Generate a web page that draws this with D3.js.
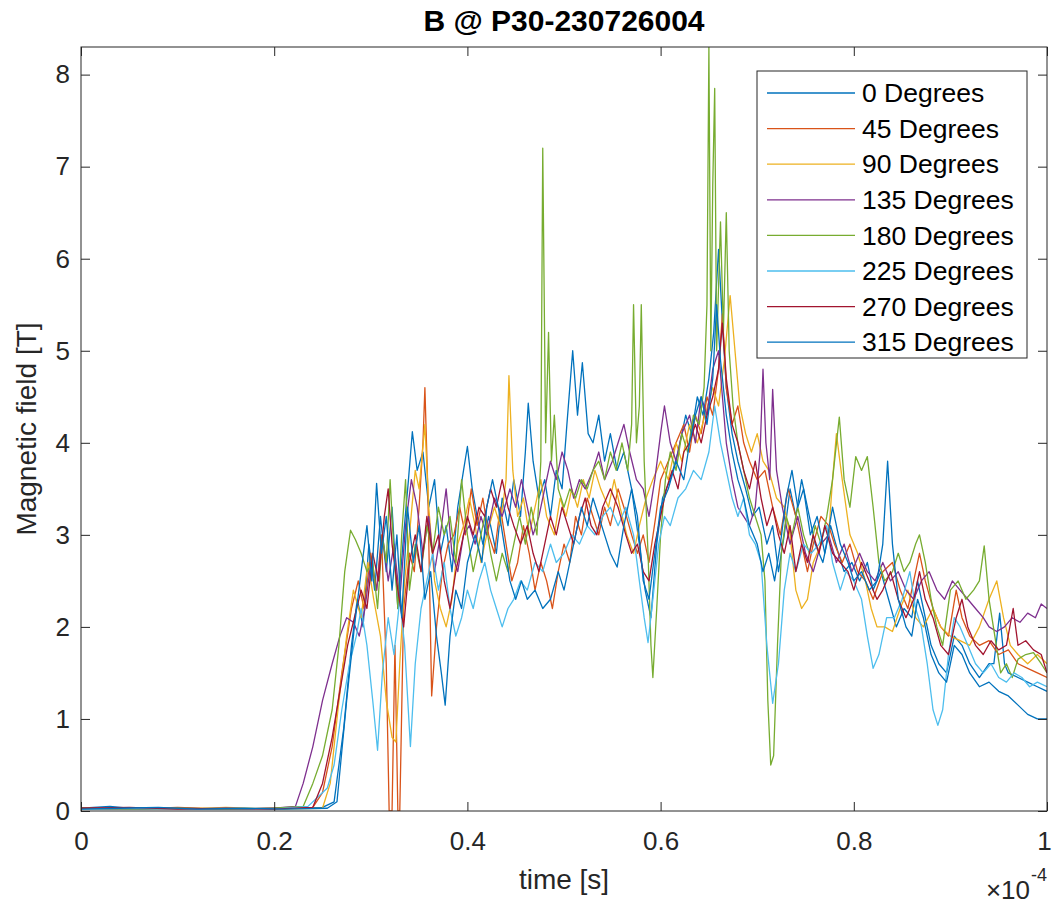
<!DOCTYPE html>
<html>
<head>
<meta charset="utf-8">
<script src="https://cdn.jsdelivr.net/npm/d3@7"></script>
<style>
  body { margin: 0; background: #fff; }
  text { font-family: "Liberation Sans", Arial, Helvetica, sans-serif; fill: #262626; }
</style>
</head>
<body>
<svg id="chart" width="1053" height="913"></svg>
<script>
// chart text
const title = "B @ P30-230726004";
const xLabel = "time [s]";
const yLabel = "Magnetic field [T]";
const xTicks = [0, 0.2, 0.4, 0.6, 0.8, 1];
const yTicks = [0, 1, 2, 3, 4, 5, 6, 7, 8];
const names = ["0 Degrees", "45 Degrees", "90 Degrees", "135 Degrees",
               "180 Degrees", "225 Degrees", "270 Degrees", "315 Degrees"];
// MATLAB default line order (8th wraps to first)
const colors = ["#0072BD", "#D95319", "#EDB120", "#7E2F8E",
                "#77AC30", "#4DBEEE", "#A2142F", "#0072BD"];

// [time (x1e-4 s), B (T)]
const deg0 = [[0,0.03],[0.03,0.05],[0.06,0.02],[0.1,0.03],[0.15,0.02],[0.2,0.03],[0.25,0.04],[0.262,0.1],[0.272,0.9],[0.28,1.8],[0.286,2.3],[0.292,2.0],[0.298,2.9],[0.304,2.4],[0.31,3.2],[0.316,2.6],[0.322,3.3],[0.328,2.2],[0.334,3.0],[0.339,3.6],[0.343,4.12],[0.348,3.7],[0.354,3.9],[0.36,3.3],[0.366,3.6],[0.372,2.8],[0.378,3.1],[0.384,2.6],[0.39,3.3],[0.396,3.7],[0.4,3.96],[0.405,3.5],[0.41,3.2],[0.416,2.9],[0.422,3.2],[0.43,2.8],[0.436,3.4],[0.442,3.1],[0.448,3.6],[0.455,3.2],[0.46,3.9],[0.463,4.43],[0.468,3.8],[0.474,3.4],[0.48,3.6],[0.486,3.2],[0.492,3.7],[0.498,3.5],[0.503,4.2],[0.509,5.0],[0.514,4.3],[0.519,4.87],[0.525,4.1],[0.53,4.0],[0.536,4.3],[0.542,3.8],[0.548,4.1],[0.555,3.7],[0.562,3.9],[0.57,3.5],[0.578,2.9],[0.584,2.4],[0.59,2.1],[0.596,2.9],[0.602,3.4],[0.61,3.6],[0.618,3.9],[0.626,4.3],[0.632,4.1],[0.638,4.5],[0.644,4.3],[0.65,4.7],[0.655,5.2],[0.66,6.1],[0.664,5.3],[0.668,4.6],[0.674,4.1],[0.68,3.8],[0.688,3.5],[0.695,3.2],[0.702,3.3],[0.71,2.9],[0.716,3.1],[0.722,2.6],[0.728,3.0],[0.734,3.5],[0.74,3.2],[0.746,3.6],[0.752,3.3],[0.76,2.9],[0.768,2.7],[0.776,3.1],[0.784,2.8],[0.79,2.6],[0.798,2.7],[0.806,2.5],[0.814,2.7],[0.82,2.4],[0.828,2.6],[0.836,2.3],[0.844,2.0],[0.852,2.2],[0.86,2.1],[0.866,2.5],[0.872,2.2],[0.88,1.8],[0.888,1.6],[0.896,1.5],[0.904,1.9],[0.912,1.8],[0.92,1.6],[0.93,1.45],[0.94,1.6],[0.945,1.6],[0.951,2.15],[0.956,1.6],[0.96,1.5],[0.97,1.45],[0.98,1.4],[0.99,1.35],[1.0,1.3]];

const deg45 = [[0,0.03],[0.05,0.02],[0.1,0.04],[0.15,0.02],[0.2,0.03],[0.24,0.04],[0.25,0.2],[0.26,0.7],[0.27,1.5],[0.28,2.2],[0.287,2.5],[0.293,2.2],[0.3,2.8],[0.306,2.4],[0.311,3.0],[0.316,1.6],[0.319,0.0],[0.322,0.0],[0.325,1.8],[0.328,0.0],[0.33,0.0],[0.334,2.2],[0.34,2.8],[0.345,2.6],[0.35,3.3],[0.354,4.0],[0.356,4.6],[0.359,3.5],[0.363,1.25],[0.368,2.0],[0.374,2.6],[0.38,2.9],[0.386,3.0],[0.392,3.3],[0.398,3.0],[0.404,3.5],[0.41,3.1],[0.416,3.4],[0.422,3.0],[0.428,2.8],[0.434,3.3],[0.44,2.9],[0.446,2.5],[0.452,2.7],[0.458,3.1],[0.464,2.8],[0.47,2.4],[0.476,2.7],[0.482,2.5],[0.488,2.2],[0.494,2.6],[0.5,2.9],[0.506,2.7],[0.512,3.2],[0.518,3.0],[0.524,3.4],[0.53,3.2],[0.536,3.0],[0.542,3.3],[0.548,3.1],[0.556,3.5],[0.562,3.3],[0.57,3.0],[0.576,2.8],[0.582,3.0],[0.588,2.7],[0.595,3.2],[0.6,3.6],[0.608,3.8],[0.616,4.0],[0.624,4.2],[0.63,3.9],[0.636,4.3],[0.642,4.1],[0.648,4.5],[0.654,4.3],[0.66,4.8],[0.664,5.4],[0.668,4.6],[0.674,4.2],[0.68,4.4],[0.686,4.0],[0.692,3.8],[0.7,3.6],[0.708,3.7],[0.716,3.3],[0.724,3.0],[0.732,3.5],[0.74,3.2],[0.746,2.9],[0.752,2.6],[0.758,2.9],[0.766,3.2],[0.774,3.1],[0.78,2.9],[0.788,2.7],[0.796,2.9],[0.804,2.6],[0.812,2.5],[0.82,2.3],[0.83,2.6],[0.84,2.7],[0.848,2.4],[0.856,2.2],[0.864,2.6],[0.868,2.8],[0.874,2.5],[0.882,2.2],[0.89,2.0],[0.898,1.9],[0.906,2.4],[0.912,2.1],[0.92,1.9],[0.93,1.8],[0.94,1.85],[0.95,1.7],[0.96,1.75],[0.97,1.6],[0.98,1.55],[0.99,1.5],[1.0,1.45]];

const deg90 = [[0,0.02],[0.05,0.03],[0.1,0.02],[0.15,0.04],[0.2,0.02],[0.25,0.03],[0.258,0.3],[0.266,1.1],[0.275,1.9],[0.282,2.4],[0.29,2.1],[0.297,2.7],[0.303,2.3],[0.31,1.9],[0.316,1.2],[0.322,0.8],[0.326,0.75],[0.33,1.6],[0.335,2.5],[0.34,3.0],[0.346,3.7],[0.35,3.5],[0.356,4.2],[0.36,3.3],[0.366,2.5],[0.372,2.2],[0.378,2.0],[0.384,2.3],[0.39,2.9],[0.396,3.1],[0.402,3.4],[0.408,3.1],[0.414,2.7],[0.42,3.0],[0.428,3.3],[0.434,3.1],[0.44,3.6],[0.443,4.73],[0.447,3.7],[0.452,3.2],[0.458,3.4],[0.464,3.0],[0.47,3.3],[0.476,3.6],[0.482,3.2],[0.49,3.0],[0.496,3.4],[0.502,3.2],[0.508,3.5],[0.514,3.3],[0.52,3.6],[0.526,3.4],[0.532,3.7],[0.538,3.5],[0.546,3.3],[0.552,3.6],[0.558,3.3],[0.565,3.0],[0.572,2.8],[0.578,3.1],[0.585,3.4],[0.592,3.6],[0.6,3.8],[0.608,3.6],[0.616,4.0],[0.622,3.8],[0.63,4.2],[0.638,4.0],[0.646,4.3],[0.654,4.6],[0.66,4.4],[0.666,4.9],[0.672,5.6],[0.677,5.0],[0.682,4.4],[0.688,4.1],[0.694,3.9],[0.7,4.1],[0.706,3.8],[0.712,3.7],[0.72,3.4],[0.728,3.3],[0.734,3.0],[0.74,2.4],[0.746,2.2],[0.752,2.3],[0.758,2.7],[0.766,2.9],[0.774,3.0],[0.778,3.6],[0.782,4.1],[0.788,3.6],[0.796,3.0],[0.804,2.8],[0.812,2.5],[0.818,2.2],[0.824,2.0],[0.832,2.0],[0.84,1.95],[0.848,2.2],[0.856,2.4],[0.864,2.1],[0.872,2.0],[0.882,2.2],[0.89,2.0],[0.9,1.9],[0.91,1.85],[0.92,1.8],[0.93,2.0],[0.94,2.3],[0.948,2.5],[0.955,2.1],[0.962,1.8],[0.97,1.7],[0.98,1.6],[0.99,1.7],[1.0,1.6]];

const deg135 = [[0,0.03],[0.05,0.02],[0.1,0.03],[0.15,0.02],[0.2,0.03],[0.222,0.05],[0.23,0.3],[0.24,0.7],[0.25,1.2],[0.26,1.6],[0.268,1.9],[0.275,2.1],[0.282,2.05],[0.288,1.9],[0.294,2.2],[0.3,2.7],[0.306,2.4],[0.312,3.0],[0.318,2.5],[0.324,2.9],[0.33,2.3],[0.336,3.1],[0.342,3.6],[0.348,3.3],[0.354,2.8],[0.36,3.2],[0.366,2.6],[0.372,3.0],[0.378,3.5],[0.384,2.8],[0.39,2.6],[0.396,3.0],[0.402,3.1],[0.408,2.9],[0.414,3.2],[0.42,3.0],[0.428,3.4],[0.436,3.2],[0.444,3.5],[0.45,3.3],[0.456,3.6],[0.462,3.3],[0.468,3.0],[0.474,3.2],[0.48,3.5],[0.486,3.8],[0.492,3.6],[0.498,3.9],[0.504,3.7],[0.51,3.4],[0.516,3.6],[0.522,3.5],[0.53,3.7],[0.536,3.9],[0.542,3.6],[0.55,3.8],[0.556,4.0],[0.562,4.2],[0.568,3.9],[0.575,3.6],[0.582,3.5],[0.588,3.2],[0.594,3.6],[0.6,4.1],[0.604,4.4],[0.61,4.0],[0.616,3.8],[0.622,4.1],[0.63,4.3],[0.636,4.0],[0.642,4.5],[0.648,4.3],[0.654,4.8],[0.66,5.0],[0.664,4.5],[0.668,4.0],[0.674,3.6],[0.68,3.3],[0.686,3.2],[0.692,3.1],[0.698,3.3],[0.703,3.9],[0.706,4.8],[0.709,4.0],[0.713,3.6],[0.716,4.58],[0.72,3.7],[0.726,3.3],[0.734,2.9],[0.742,3.2],[0.75,2.8],[0.758,2.6],[0.766,2.9],[0.774,3.0],[0.782,2.7],[0.79,2.9],[0.798,2.6],[0.806,2.8],[0.814,2.6],[0.822,2.5],[0.83,2.7],[0.838,2.5],[0.846,2.6],[0.854,2.4],[0.862,2.3],[0.87,2.5],[0.878,2.6],[0.886,2.4],[0.894,2.3],[0.902,2.5],[0.91,2.4],[0.918,2.3],[0.926,2.2],[0.934,2.1],[0.94,2.0],[0.948,1.95],[0.956,2.0],[0.964,2.1],[0.972,2.05],[0.98,2.15],[0.988,2.1],[0.994,2.25],[1.0,2.2]];

const deg180 = [[0,0.03],[0.05,0.02],[0.1,0.03],[0.15,0.02],[0.2,0.03],[0.23,0.05],[0.24,0.3],[0.25,0.6],[0.26,1.1],[0.267,1.8],[0.273,2.6],[0.279,3.05],[0.284,2.95],[0.29,2.8],[0.296,2.6],[0.302,2.7],[0.307,2.2],[0.312,3.0],[0.316,2.7],[0.32,3.6],[0.324,2.8],[0.328,2.2],[0.332,3.0],[0.336,3.6],[0.34,2.4],[0.346,2.9],[0.352,2.6],[0.358,3.1],[0.364,2.8],[0.37,3.3],[0.376,3.0],[0.382,3.2],[0.388,2.7],[0.394,3.6],[0.4,3.0],[0.406,2.6],[0.412,2.9],[0.418,3.2],[0.424,2.8],[0.43,2.5],[0.436,2.8],[0.442,2.6],[0.448,2.9],[0.454,3.2],[0.46,2.9],[0.466,3.3],[0.472,3.0],[0.476,3.8],[0.478,7.2],[0.481,4.0],[0.484,5.2],[0.487,3.8],[0.49,4.3],[0.494,3.5],[0.5,3.3],[0.506,3.5],[0.512,3.4],[0.518,3.6],[0.524,3.5],[0.53,3.7],[0.536,3.8],[0.542,3.6],[0.548,3.9],[0.554,3.7],[0.56,4.0],[0.566,3.7],[0.57,4.2],[0.572,5.5],[0.575,4.0],[0.578,4.4],[0.58,5.5],[0.583,3.8],[0.587,2.8],[0.59,1.8],[0.592,1.45],[0.596,2.2],[0.6,3.0],[0.605,3.6],[0.61,3.9],[0.616,3.7],[0.622,4.1],[0.628,3.9],[0.634,4.3],[0.64,4.2],[0.645,4.6],[0.648,5.5],[0.65,8.3],[0.652,5.0],[0.654,6.8],[0.656,7.85],[0.658,5.0],[0.662,6.4],[0.665,5.2],[0.668,6.5],[0.671,5.0],[0.675,4.4],[0.68,4.0],[0.686,3.7],[0.692,3.4],[0.698,3.2],[0.704,3.0],[0.708,2.5],[0.711,1.2],[0.714,0.5],[0.717,0.6],[0.721,1.8],[0.725,2.8],[0.73,3.2],[0.736,3.0],[0.742,3.3],[0.748,3.0],[0.754,2.8],[0.76,3.1],[0.766,2.9],[0.772,3.2],[0.778,3.6],[0.785,4.28],[0.79,3.6],[0.796,3.3],[0.802,3.85],[0.808,3.7],[0.814,3.85],[0.82,3.3],[0.826,2.7],[0.832,2.5],[0.84,2.6],[0.846,2.8],[0.852,2.6],[0.858,2.7],[0.864,2.9],[0.868,3.0],[0.874,2.7],[0.88,2.3],[0.886,2.0],[0.892,1.8],[0.9,2.4],[0.908,2.5],[0.916,2.3],[0.924,2.4],[0.93,2.5],[0.935,2.88],[0.94,2.3],[0.946,1.9],[0.952,1.5],[0.958,1.6],[0.964,1.45],[0.97,1.65],[0.978,1.7],[0.986,1.72],[0.994,1.6],[1.0,1.5]];

const deg225 = [[0,0.02],[0.05,0.03],[0.1,0.02],[0.15,0.03],[0.2,0.02],[0.235,0.05],[0.245,0.15],[0.255,0.25],[0.262,0.5],[0.27,1.1],[0.278,1.6],[0.285,1.9],[0.29,2.2],[0.296,1.8],[0.302,1.2],[0.307,0.66],[0.312,1.5],[0.318,2.1],[0.324,1.7],[0.33,2.3],[0.335,1.8],[0.341,0.7],[0.346,1.6],[0.352,2.2],[0.358,2.5],[0.364,2.8],[0.37,2.4],[0.376,2.7],[0.382,2.2],[0.388,1.9],[0.394,2.1],[0.4,2.4],[0.406,2.2],[0.412,2.5],[0.418,2.7],[0.424,2.4],[0.43,2.2],[0.436,2.0],[0.442,2.2],[0.448,2.3],[0.455,2.5],[0.462,2.4],[0.47,2.7],[0.478,2.6],[0.486,2.9],[0.492,2.7],[0.5,2.8],[0.508,3.0],[0.516,2.9],[0.524,3.1],[0.532,3.0],[0.54,3.2],[0.548,3.3],[0.556,3.1],[0.564,3.3],[0.572,3.0],[0.578,2.5],[0.583,2.1],[0.587,1.83],[0.592,2.3],[0.598,2.9],[0.604,3.2],[0.61,3.1],[0.618,3.4],[0.626,3.5],[0.634,3.7],[0.642,3.6],[0.65,3.9],[0.656,4.4],[0.662,4.0],[0.668,3.7],[0.674,3.4],[0.68,3.2],[0.686,3.4],[0.692,3.0],[0.698,2.9],[0.704,2.7],[0.71,1.8],[0.716,1.17],[0.722,1.6],[0.728,2.4],[0.734,2.8],[0.74,2.6],[0.748,2.9],[0.756,2.8],[0.764,2.9],[0.772,3.1],[0.778,2.7],[0.786,2.4],[0.792,2.6],[0.8,2.5],[0.808,2.3],[0.814,1.9],[0.82,1.55],[0.826,1.7],[0.834,2.1],[0.842,2.1],[0.85,2.3],[0.858,2.6],[0.864,2.2],[0.87,2.0],[0.876,1.6],[0.882,1.1],[0.887,0.93],[0.892,1.1],[0.898,1.7],[0.904,2.1],[0.91,2.0],[0.918,1.8],[0.926,1.6],[0.934,1.5],[0.942,1.6],[0.95,1.45],[0.958,1.4],[0.966,1.5],[0.974,1.45],[0.982,1.35],[0.99,1.4],[1.0,1.35]];

const deg270 = [[0,0.03],[0.05,0.04],[0.1,0.02],[0.15,0.03],[0.2,0.02],[0.24,0.04],[0.25,0.3],[0.26,0.8],[0.268,1.3],[0.276,1.8],[0.283,2.1],[0.29,2.4],[0.296,2.2],[0.302,2.8],[0.308,2.5],[0.314,3.2],[0.318,3.5],[0.322,2.9],[0.328,2.4],[0.334,2.0],[0.34,2.7],[0.346,3.0],[0.352,2.6],[0.358,3.2],[0.364,2.8],[0.37,3.0],[0.376,2.5],[0.382,2.2],[0.388,2.6],[0.394,2.9],[0.4,3.2],[0.406,3.0],[0.412,3.3],[0.418,3.2],[0.424,3.5],[0.43,3.3],[0.436,3.6],[0.442,3.3],[0.448,3.1],[0.455,2.9],[0.462,3.1],[0.468,2.8],[0.474,2.6],[0.48,2.9],[0.486,3.2],[0.492,3.0],[0.498,3.3],[0.504,3.1],[0.51,2.9],[0.516,3.2],[0.522,3.4],[0.528,3.1],[0.534,3.0],[0.54,3.3],[0.548,3.5],[0.556,3.3],[0.564,3.0],[0.57,2.8],[0.576,2.9],[0.582,2.6],[0.588,2.5],[0.594,2.9],[0.6,3.2],[0.606,3.5],[0.612,3.7],[0.618,3.5],[0.624,3.9],[0.63,4.0],[0.636,4.2],[0.642,4.0],[0.648,4.3],[0.654,4.5],[0.66,4.8],[0.664,5.3],[0.668,4.7],[0.674,4.2],[0.68,4.0],[0.686,3.7],[0.692,3.5],[0.698,3.8],[0.704,3.4],[0.71,3.1],[0.716,3.3],[0.722,3.0],[0.728,2.8],[0.734,3.1],[0.74,2.6],[0.746,2.9],[0.752,2.7],[0.758,3.0],[0.764,2.8],[0.77,3.1],[0.778,2.8],[0.786,2.7],[0.794,2.6],[0.8,2.4],[0.808,2.7],[0.816,2.5],[0.824,2.3],[0.83,2.4],[0.838,2.6],[0.846,2.3],[0.854,2.1],[0.862,2.3],[0.868,2.6],[0.874,2.3],[0.882,2.1],[0.89,1.8],[0.898,1.7],[0.906,2.1],[0.912,2.3],[0.918,2.0],[0.926,1.8],[0.934,1.7],[0.942,1.85],[0.95,1.75],[0.958,1.8],[0.965,2.2],[0.97,1.8],[0.978,1.85],[0.986,1.75],[0.994,1.7],[1.0,1.5]];

const deg315 = [[0,0.02],[0.04,0.03],[0.08,0.04],[0.12,0.02],[0.17,0.03],[0.21,0.02],[0.255,0.03],[0.265,0.1],[0.275,1.2],[0.283,2.0],[0.29,2.6],[0.296,3.1],[0.301,2.5],[0.306,3.56],[0.311,2.8],[0.316,3.2],[0.322,2.4],[0.327,3.0],[0.332,2.1],[0.338,3.3],[0.344,2.7],[0.35,3.1],[0.356,2.3],[0.362,2.6],[0.368,1.9],[0.373,1.5],[0.377,1.15],[0.382,1.9],[0.388,2.4],[0.394,2.2],[0.4,2.7],[0.408,3.0],[0.415,2.7],[0.42,3.3],[0.426,3.6],[0.432,3.3],[0.438,2.9],[0.444,2.5],[0.45,2.3],[0.456,2.5],[0.462,2.3],[0.47,2.4],[0.478,2.2],[0.486,2.3],[0.494,2.6],[0.5,2.4],[0.506,2.7],[0.512,3.0],[0.518,3.3],[0.524,3.1],[0.53,3.4],[0.536,3.2],[0.542,3.0],[0.548,2.8],[0.555,2.65],[0.562,3.1],[0.57,3.5],[0.576,3.2],[0.582,2.5],[0.588,2.3],[0.594,2.8],[0.6,3.3],[0.608,3.5],[0.616,3.8],[0.624,3.6],[0.63,4.0],[0.636,4.3],[0.642,4.5],[0.648,4.2],[0.654,4.7],[0.658,5.5],[0.662,4.9],[0.668,4.3],[0.674,3.9],[0.68,3.6],[0.686,3.4],[0.692,3.1],[0.7,2.9],[0.706,2.6],[0.712,2.8],[0.718,2.5],[0.724,2.9],[0.73,3.4],[0.736,3.7],[0.742,3.3],[0.748,3.5],[0.755,3.0],[0.762,3.2],[0.77,2.8],[0.778,3.3],[0.786,2.9],[0.794,2.7],[0.8,2.5],[0.808,2.6],[0.816,2.4],[0.824,2.5],[0.83,2.9],[0.835,3.8],[0.84,2.9],[0.846,2.3],[0.854,2.0],[0.86,1.9],[0.866,2.3],[0.872,2.1],[0.88,1.7],[0.888,1.5],[0.896,1.4],[0.904,1.8],[0.912,1.7],[0.92,1.5],[0.93,1.35],[0.94,1.4],[0.95,1.3],[0.96,1.25],[0.97,1.15],[0.98,1.05],[0.99,1.0],[1.0,1.0]];

const series = [deg0, deg45, deg90, deg135, deg180, deg225, deg270, deg315];

const svg = d3.select("#chart");
const plotLeft = 81, plotRight = 1047, plotTop = 47, plotBottom = 811;

const x = d3.scaleLinear().domain([0, 1]).range([plotLeft, plotRight]);
const y = d3.scaleLinear().domain([0, 8.3]).range([plotBottom, plotTop]);

svg.append("defs").append("clipPath").attr("id", "plotClip")
  .append("rect").attr("x", plotLeft).attr("y", plotTop)
  .attr("width", plotRight - plotLeft).attr("height", plotBottom - plotTop);

// lines
const line = d3.line().x(d => x(d[0])).y(d => y(d[1]));
svg.append("g").attr("clip-path", "url(#plotClip)")
  .selectAll("path")
  .data(series)
  .enter().append("path")
  .attr("d", line)
  .attr("fill", "none")
  .attr("stroke", (d, i) => colors[i])
  .attr("stroke-width", 1.3)
  .attr("stroke-linejoin", "round");

// axes, ticks pointing inward like MATLAB
const tickLen = 9;
const fmt = d => d3.format("~g")(d);

const gx = svg.append("g").attr("transform", `translate(0,${plotBottom})`)
  .call(d3.axisBottom(x).tickValues(xTicks).tickFormat(fmt).tickSize(-tickLen).tickPadding(21));
const gy = svg.append("g").attr("transform", `translate(${plotLeft},0)`)
  .call(d3.axisLeft(y).tickValues(yTicks).tickFormat(fmt).tickSize(-tickLen).tickPadding(11));
const gt = svg.append("g").attr("transform", `translate(0,${plotTop})`)
  .call(d3.axisTop(x).tickValues(xTicks).tickFormat("").tickSize(-tickLen));
const gr = svg.append("g").attr("transform", `translate(${plotRight},0)`)
  .call(d3.axisRight(y).tickValues(yTicks).tickFormat("").tickSize(-tickLen));

[gx, gy, gt, gr].forEach(g => {
  g.select(".domain").remove();
  g.selectAll(".tick line").attr("stroke", "#262626");
  g.selectAll(".tick text").attr("font-size", 26).attr("fill", "#262626")
    .style("font-family", '"Liberation Sans", Arial, sans-serif');
});
// keep the last x label inside the page edge
gx.selectAll(".tick text").filter(d => d === 1).attr("dx", -3);

svg.append("rect")
  .attr("x", plotLeft).attr("y", plotTop)
  .attr("width", plotRight - plotLeft).attr("height", plotBottom - plotTop)
  .attr("fill", "none").attr("stroke", "#262626").attr("stroke-width", 1);

// titles
svg.append("text").attr("x", (plotLeft + plotRight) / 2).attr("y", 31)
  .attr("text-anchor", "middle").attr("font-size", 30).attr("font-weight", "bold")
  .style("fill", "#000").text(title);

svg.append("text").attr("x", (plotLeft + plotRight) / 2).attr("y", 889)
  .attr("text-anchor", "middle").attr("font-size", 28).text(xLabel);

svg.append("text")
  .attr("transform", `translate(36,${(plotTop + plotBottom) / 2}) rotate(-90)`)
  .attr("text-anchor", "middle").attr("font-size", 28).text(yLabel);

// x10^-4 exponent label
svg.append("text").attr("x", 1030).attr("y", 899)
  .attr("text-anchor", "end").attr("font-size", 26).text("\u00d710");
svg.append("text").attr("x", 1031).attr("y", 881).attr("font-size", 18).text("-4");

// legend
const legX = 757, legY = 71, legW = 270, legH = 287, rowH = 35.6;
const leg = svg.append("g");
leg.append("rect").attr("x", legX).attr("y", legY)
  .attr("width", legW).attr("height", legH)
  .attr("fill", "#fff").attr("stroke", "#262626").attr("stroke-width", 1);

const rows = leg.selectAll("g.row").data(names).enter().append("g")
  .attr("class", "row")
  .attr("transform", (d, i) => `translate(0,${legY + 22 + i * rowH})`);
rows.append("line").attr("x1", legX + 10).attr("x2", legX + 98)
  .attr("stroke", (d, i) => colors[i]).attr("stroke-width", 1.3);
rows.append("text").attr("x", legX + 105).attr("dy", "0.35em")
  .attr("font-size", 26.5).style("fill", "#000").text(d => d);
</script>
</body>
</html>
